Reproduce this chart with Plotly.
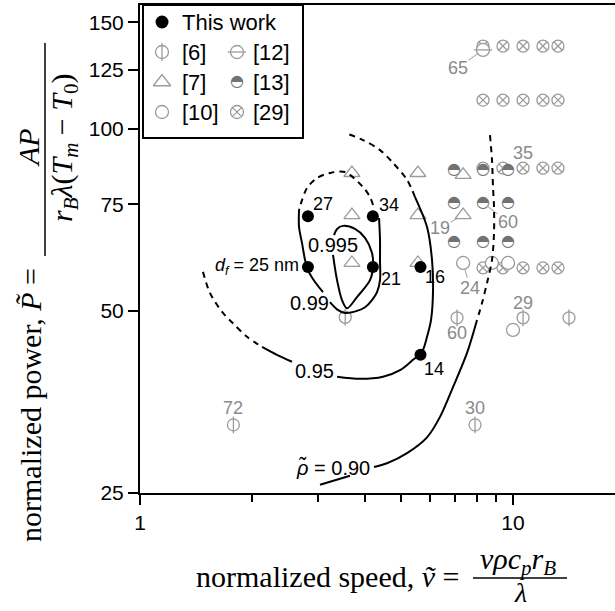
import math
import plotly.graph_objects as go

# ---------------- data ----------------
# "This work" (black dots) and their labels
this_x = [2.82, 2.82, 4.21, 4.21, 5.65, 5.65]
this_y = [71.7, 59.1, 71.7, 59.1, 59.1, 42.3]
this_lab = ["27", "<i>d</i><sub><i>f</i></sub> = 25 nm", "34", "21", "16", "14"]

# literature data
ref6_x = [3.55, 7.08, 10.64, 14.13, 1.78, 7.91]
ref6_y = [48.8, 48.7, 48.7, 48.7, 32.4, 32.4]
ref7_x = [3.70, 5.56, 7.35, 3.70, 5.56, 7.35, 3.70, 5.56]
ref7_y = [84.5, 84.5, 83.9, 72.0, 72.0, 72.0, 60.0, 60.0]
ref10_x = [7.35, 8.78, 9.70, 10.0]
ref10_y = [60.0, 60.0, 60.0, 46.5]
ref12_x = [8.31]
ref12_y = [135.0]
ref13_x = [6.95, 8.31, 9.70, 6.95, 8.31, 9.70, 6.95, 8.31, 9.70]
ref13_y = [85.5, 85.5, 85.5, 75.4, 75.4, 75.4, 65.0, 65.0, 65.0]
ref29_x = [8.31, 9.40, 10.64, 12.03, 13.20,
           8.31, 9.40, 10.64, 12.03, 13.20,
           8.31, 9.40, 10.64, 12.03, 13.20,
           8.31, 9.40, 10.64, 12.03, 13.20]
ref29_y = [137.0, 137.0, 137.0, 137.0, 137.0,
           111.5, 111.5, 111.5, 111.5, 111.5,
           86.1, 86.1, 86.1, 86.1, 86.1,
           58.9, 58.9, 58.9, 58.9, 58.9]

# gray value labels attached to literature points
gray_lab = ["65", "19", "60", "24", "35", "29", "60", "72", "30"]
gray_lab_x = [8.31, 7.35, 8.31, 7.35, 10.64, 10.64, 7.08, 1.78, 7.91]
gray_lab_y = [135.0, 72.0, 75.4, 60.0, 86.1, 48.7, 48.7, 32.4, 32.4]

# iso-density contours (rho~)
c0995_x = [3.292, 3.375, 3.480, 3.589, 3.817, 4.137, 4.214, 4.188, 4.011, 3.770, 3.501, 3.375, 3.313]
c0995_y = [61.9, 56.2, 52.1, 50.5, 52.7, 56.2, 59.1, 62.3, 66.0, 68.3, 69.1, 68.3, 66.7]

c099a_x = [3.231, 3.375, 3.545, 3.817, 4.011, 4.188, 4.320, 4.400, 4.400, 4.400, 4.374]
c099a_y = [51.7, 50.3, 49.6, 50.0, 50.7, 52.1, 53.7, 56.2, 60.7, 65.5, 71.2]
c099b_x = [4.214, 4.137, 3.961, 3.545, 3.231, 2.982, 2.804, 2.719, 2.669]
c099b_y = [74.8, 77.1, 80.1, 84.8, 84.5, 82.9, 79.8, 76.2, 73.4]
c099c_x = [2.669, 2.669, 2.719, 2.770, 2.821, 2.946, 3.095]
c099c_y = [73.4, 68.8, 64.7, 60.7, 58.4, 55.8, 53.7]

c095a_x = [1.475, 1.541, 1.669, 1.775, 1.936, 2.124]
c095a_y = [58.0, 53.5, 49.6, 47.7, 45.3, 43.6]
c095b_x = [2.124, 2.329, 2.556]
c095b_y = [43.6, 42.3, 41.2]
c095c_x = [3.375, 3.888, 4.482, 4.979, 5.395, 5.702, 5.882, 6.029, 6.104, 6.066, 5.882, 5.462]
c095c_y = [38.9, 38.6, 38.9, 39.9, 41.5, 42.8, 45.3, 48.3, 54.1, 60.7, 68.8, 77.1]
c095d_x = [5.462, 5.199, 4.769, 4.400, 3.961, 3.612]
c095d_y = [77.1, 82.3, 87.8, 92.2, 95.8, 98.0]

c090a_x = [8.676, 8.784, 8.839, 8.894, 8.894, 8.784, 8.518, 8.259, 8.008]
c090a_y = [97.6, 88.8, 80.1, 74.2, 67.3, 60.7, 55.6, 51.5, 48.3]
c090b_x = [8.008, 7.529, 6.906, 6.373, 5.882, 5.199, 4.595, 4.240]
c090b_y = [48.3, 42.6, 37.4, 33.4, 30.9, 29.1, 28.0, 27.6]
c090c_x = [3.656, 3.038]
c090c_y = [26.7, 25.8]

contour_lab = ["0.995", "0.99", "0.95", "<i>ρ̃</i> = 0.90"]
contour_lab_x = [3.29, 2.84, 2.93, 3.29]
contour_lab_y = [64.3, 51.5, 39.8, 27.6]

x_ticks = [1, 10]
x_minor = [2, 3, 4, 5, 6, 7, 8, 9]
y_ticks = [25, 50, 75, 100, 125, 150]

legend_names = ["This work", "[6]", "[7]", "[10]", "[12]", "[13]", "[29]"]

# ---------------- styles / layout constants ----------------
SANS = "Liberation Sans, Arial, sans-serif"
SERIF = "Liberation Serif, Times New Roman, serif"
GLYPH = "DejaVu Sans"
GRAY = "#9b9b9b"
GRAY_TXT = "#8a8a8a"
HALF = "#727272"
W, H = 615, 611
ML, MT, MB = 140, 5, 118
PW, PH = W - ML, H - MT - MB
X_RANGE = [0, PW / 373.0]
Y_RANGE = [math.log10(25), math.log10(25) + PH / 605.0]


def pxx(p):
    return (p - ML) / PW


def pxy(p):
    return (H - MB - p) / PH


fig = go.Figure()


def markers(x, y, symbol, size, fill="white", line=GRAY, lw=1.3, xa="x", ya="y"):
    fig.add_trace(go.Scatter(x=x, y=y, mode="markers", xaxis=xa, yaxis=ya,
                             marker=dict(symbol=symbol, size=size, color=fill,
                                         line=dict(color=line, width=lw)),
                             hoverinfo="skip", showlegend=False))


def half_disc(x, y, size, xa="x", ya="y"):
    markers(x, y, "circle", size - 1, fill="white", line="white", lw=0, xa=xa, ya=ya)
    fig.add_trace(go.Scatter(x=x, y=y, mode="text", xaxis=xa, yaxis=ya,
                             text=["◓"] * len(x), textposition="middle center",
                             textfont=dict(family=GLYPH, size=size + 3, color=HALF),
                             hoverinfo="skip", showlegend=False))


# literature markers
markers(ref29_x, ref29_y, "circle-x", 12)
markers(ref10_x, ref10_y, "circle", 13)
markers(ref7_x, ref7_y, "triangle-up", 14)
half_disc(ref13_x, ref13_y, 13)
markers(ref6_x, ref6_y, "circle", 12)
markers(ref6_x, ref6_y, "line-ns", 12)
markers(ref12_x, ref12_y, "circle", 13)
markers(ref12_x, ref12_y, "line-ew", 13)


def curve(x, y, dash="solid"):
    fig.add_trace(go.Scatter(x=x, y=y, mode="lines",
                             line=dict(color="black", width=2, shape="spline",
                                       smoothing=0.9, dash=dash),
                             hoverinfo="skip", showlegend=False))


DASH = "6px,5px"
curve(c0995_x, c0995_y)
curve(c099a_x, c099a_y)
curve(c099b_x, c099b_y, DASH)
curve(c099c_x, c099c_y)
curve(c095a_x, c095a_y, DASH)
curve(c095b_x, c095b_y)
curve(c095c_x, c095c_y)
curve(c095d_x, c095d_y, DASH)
curve(c090a_x, c090a_y, DASH)
curve(c090b_x, c090b_y)
curve(c090c_x, c090c_y)

# this work
markers(this_x, this_y, "circle", 12, fill="black", line="black", lw=0)

ann = []
# labels of this work points: (xshift, yshift, xanchor)
this_lab_place = [(15, 12, "center"), (-7, 0, "right"), (16, 11, "center"),
                  (18, -12, "center"), (14, -10, "center"), (13, -14, "center")]
for t, x, y, (dx, dy, xa) in zip(this_lab, this_x, this_y, this_lab_place):
    ann.append(dict(x=math.log10(x), y=math.log10(y), xref="x", yref="y", text=t,
                    showarrow=False, xshift=dx, yshift=dy, xanchor=xa, yanchor="middle",
                    font=dict(family=SANS, size=18, color="black")))

# gray labels: (ax, ay, leader?)
gray_place = [(-25, 18, True), (-23, 13, True), (25, 19, True), (7, 25, True),
              (0, 15, False), (0, 15, False), (0, -15, False), (0, 17, False), (0, 17, False)]
for t, x, y, (ax, ay, lead) in zip(gray_lab, gray_lab_x, gray_lab_y, gray_place):
    if lead:
        ann.append(dict(x=math.log10(x), y=math.log10(y), xref="x", yref="y", text=t,
                        showarrow=True, arrowhead=0, arrowwidth=1, arrowcolor=GRAY,
                        ax=ax, ay=ay, standoff=6, borderpad=0,
                        font=dict(family=SANS, size=18, color=GRAY_TXT)))
    else:
        ann.append(dict(x=math.log10(x), y=math.log10(y), xref="x", yref="y", text=t,
                        showarrow=False, yshift=ay, xshift=ax,
                        font=dict(family=SANS, size=18, color=GRAY_TXT)))

for t, x, y in zip(contour_lab, contour_lab_x, contour_lab_y):
    ann.append(dict(x=math.log10(x), y=math.log10(y), xref="x", yref="y", text=t,
                    showarrow=False, font=dict(family=SANS, size=20, color="black")))

# ---------------- custom legend (overlay axes in pixel units) ----------------
leg_sym_x = [162, 162, 162, 162, 237, 237, 237]
leg_sym_y = [22, 52, 82, 112, 52, 82, 112]
markers([leg_sym_x[0]], [leg_sym_y[0]], "circle", 13, fill="black", line="black", lw=0, xa="x2", ya="y2")
markers([leg_sym_x[1]], [leg_sym_y[1]], "circle", 13, xa="x2", ya="y2")
markers([leg_sym_x[1]], [leg_sym_y[1]], "line-ns", 13, xa="x2", ya="y2")
markers([leg_sym_x[2]], [leg_sym_y[2]], "triangle-up", 15, xa="x2", ya="y2")
markers([leg_sym_x[3]], [leg_sym_y[3]], "circle", 13, xa="x2", ya="y2")
markers([leg_sym_x[4]], [leg_sym_y[4]], "circle", 13, xa="x2", ya="y2")
markers([leg_sym_x[4]], [leg_sym_y[4]], "line-ew", 13, xa="x2", ya="y2")
half_disc([leg_sym_x[5]], [leg_sym_y[5]], 13, xa="x2", ya="y2")
markers([leg_sym_x[6]], [leg_sym_y[6]], "circle-x", 13, xa="x2", ya="y2")

leg_txt_x = [180, 180, 180, 180, 251, 251, 251]
for t, lx, ly in zip(legend_names, leg_txt_x, leg_sym_y):
    ann.append(dict(x=pxx(lx), y=pxy(ly), xref="paper", yref="paper", text=t,
                    showarrow=False, xanchor="left", yanchor="middle",
                    font=dict(family=SANS, size=22, color="black")))

shapes = [dict(type="rect", xref="paper", yref="paper", x0=pxx(143), x1=pxx(303),
               y0=pxy(138), y1=pxy(MT), line=dict(color="black", width=2),
               fillcolor="white", layer="below")]

# ---------------- axis titles (with fractions) ----------------
ann.append(dict(x=pxx(462), y=pxy(576), xref="paper", yref="paper",
                text="normalized speed, <i>ṽ</i> =", showarrow=False,
                xanchor="right", yanchor="middle", font=dict(family=SERIF, size=30, color="black")))
ann.append(dict(x=pxx(518), y=pxy(561), xref="paper", yref="paper",
                text="<i>vρc</i><sub><i>p</i></sub><i>r</i><sub><i>B</i></sub>", showarrow=False,
                xanchor="center", yanchor="middle", font=dict(family=SERIF, size=30, color="black")))
ann.append(dict(x=pxx(520), y=pxy(610), xref="paper", yref="paper",
                text="<i>λ</i>", showarrow=False,
                xanchor="center", yanchor="bottom", font=dict(family=SERIF, size=28, color="black")))
shapes.append(dict(type="line", xref="paper", yref="paper", x0=pxx(473), x1=pxx(567),
                   y0=pxy(578), y1=pxy(578), line=dict(color="black", width=1.5)))

ann.append(dict(x=pxx(30), y=pxy(405), xref="paper", yref="paper",
                text="normalized power, <i>P̃</i> =", showarrow=False, textangle=-90,
                xanchor="center", yanchor="middle", font=dict(family=SERIF, size=30, color="black")))
ann.append(dict(x=pxx(28), y=pxy(148), xref="paper", yref="paper",
                text="<i>AP</i>", showarrow=False, textangle=-90,
                xanchor="center", yanchor="middle", font=dict(family=SERIF, size=30, color="black")))
ann.append(dict(x=pxx(64), y=pxy(148), xref="paper", yref="paper",
                text="<i>r</i><sub><i>B</i></sub><i>λ</i>(<i>T</i><sub><i>m</i></sub> − <i>T</i><sub>0</sub>)",
                showarrow=False, textangle=-90,
                xanchor="center", yanchor="middle", font=dict(family=SERIF, size=30, color="black")))
shapes.append(dict(type="line", xref="paper", yref="paper", x0=pxx(45), x1=pxx(45),
                   y0=pxy(43), y1=pxy(256), line=dict(color="black", width=1.5)))

axis_common = dict(showgrid=False, zeroline=False, showline=True, linewidth=2,
                   linecolor="black", ticks="outside", ticklen=10, tickwidth=2,
                   tickcolor="black", tickfont=dict(family=SANS, size=21, color="black"))

fig.update_layout(
    width=W, height=H, margin=dict(l=ML, r=0, t=MT, b=MB),
    plot_bgcolor="white", paper_bgcolor="white", showlegend=False,
    xaxis=dict(type="log", range=X_RANGE, tickvals=x_ticks, ticktext=[str(v) for v in x_ticks],
               mirror=True,
               minor=dict(tickvals=x_minor, ticks="outside", ticklen=7, tickwidth=2,
                          tickcolor="black", showgrid=False),
               **axis_common),
    yaxis=dict(type="log", range=Y_RANGE, tickvals=y_ticks, ticktext=[str(v) for v in y_ticks],
               **axis_common),
    xaxis2=dict(overlaying="x", anchor="y2", range=[ML, W], visible=False, fixedrange=True),
    yaxis2=dict(overlaying="y", anchor="x2", range=[H - MB, MT], visible=False, fixedrange=True),
    annotations=ann, shapes=shapes,
)

fig.write_html("out.html")
